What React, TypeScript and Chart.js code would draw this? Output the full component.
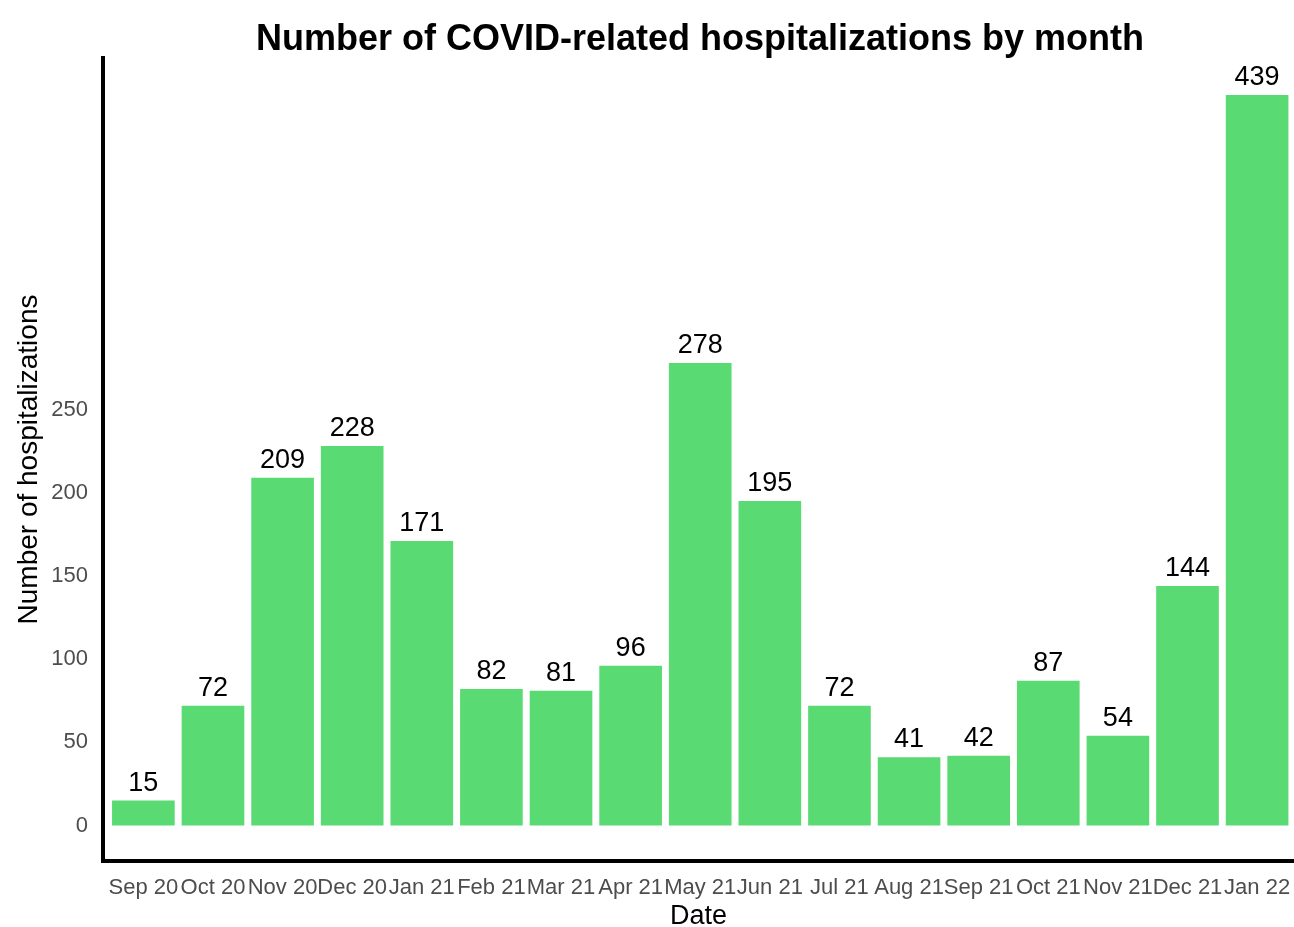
import React, { useEffect, useRef } from "react";
import { Chart, registerables } from "chart.js";

Chart.register(...registerables);

const months = [
  "Sep 20", "Oct 20", "Nov 20", "Dec 20", "Jan 21", "Feb 21", "Mar 21", "Apr 21", "May 21",
  "Jun 21", "Jul 21", "Aug 21", "Sep 21", "Oct 21", "Nov 21", "Dec 21", "Jan 22",
];
const hospitalizations = [15, 72, 209, 228, 171, 82, 81, 96, 278, 195, 72, 41, 42, 87, 54, 144, 439];
const yTicks = [0, 50, 100, 150, 200, 250];

const FONT = "'Liberation Sans', Arial, sans-serif";
const chartTitle = "Number of COVID-related hospitalizations by month";

export default function App() {
  const ref = useRef<HTMLCanvasElement | null>(null);

  useEffect(() => {
    document.body.style.margin = "0";
    const canvas = ref.current;
    if (!canvas) return;

    const labelsPlugin = {
      id: "valueLabels",
      afterDatasetsDraw(chart: any) {
        const ctx = chart.ctx;
        const meta = chart.getDatasetMeta(0);
        ctx.save();
        ctx.fillStyle = "#000000";
        ctx.font = `27px ${FONT}`;
        ctx.textAlign = "center";
        ctx.textBaseline = "alphabetic";
        meta.data.forEach((bar: any, i: number) => {
          ctx.fillText(String(hospitalizations[i]), bar.x, bar.y - 10);
        });
        ctx.restore();
      },
      afterDraw(chart: any) {
        const ctx = chart.ctx;
        ctx.save();
        ctx.fillStyle = "#000000";
        ctx.font = `bold 36px ${FONT}`;
        ctx.textAlign = "center";
        ctx.textBaseline = "alphabetic";
        ctx.fillText(chartTitle, 700, 50);
        ctx.restore();
      },
    };

    const chart = new Chart(canvas, {
      type: "bar",
      data: {
        datasets: [
          {
            data: hospitalizations.map((v, i) => ({ x: i, y: v })),
            backgroundColor: "#59DA72",
            borderWidth: 0,
            categoryPercentage: 0.9,
            barPercentage: 1,
          },
        ],
      },
      options: {
        animation: false,
        responsive: false,
        devicePixelRatio: 1,
        layout: { padding: { top: 58, left: 0, right: 0, bottom: 0 } },
        plugins: {
          legend: { display: false },
          tooltip: { enabled: false },
          title: { display: false },
        },
        scales: {
          x: {
            type: "linear",
            offset: false,
            min: -0.58,
            max: 16.53,
            afterBuildTicks: (scale: any) => {
              scale.ticks = months.map((_, i) => ({ value: i }));
            },
            afterFit: (scale: any) => {
              scale.height = 66;
              scale.paddingLeft = 0;
              scale.paddingRight = 0;
            },
            grid: { display: false, drawTicks: false },
            border: { display: true, color: "#000000", width: 4 },
            ticks: {
              autoSkip: false,
              maxRotation: 0,
              minRotation: 0,
              padding: 14,
              color: "#4D4D4D",
              font: { family: FONT, size: 22 },
              callback: (v: any) => months[Math.round(Number(v))] ?? "",
            },
            title: {
              display: true,
              text: "Date",
              color: "#000000",
              font: { family: FONT, size: 27, lineHeight: 0.8 },
              padding: 0,
            },
          },
          y: {
            type: "linear",
            min: -21.3,
            max: 461.2,
            afterBuildTicks: (scale: any) => {
              scale.ticks = yTicks.map((v) => ({ value: v }));
            },
            afterFit: (scale: any) => {
              scale.width = 103;
              scale.paddingTop = 0;
              scale.paddingBottom = 0;
            },
            grid: { display: false, drawTicks: false },
            border: { display: true, color: "#000000", width: 4 },
            ticks: {
              padding: 15,
              color: "#4D4D4D",
              font: { family: FONT, size: 22 },
              callback: (v: any) => String(v),
            },
            title: {
              display: true,
              text: "Number of hospitalizations",
              color: "#000000",
              font: { family: FONT, size: 28 },
              padding: { top: 12, bottom: 0 },
            },
          },
        },
      },
      plugins: [labelsPlugin],
    } as any);

    return () => chart.destroy();
  }, []);

  return (
    <div style={{ width: 1294, height: 927, background: "#ffffff" }}>
      <canvas ref={ref} width={1294} height={927} />
    </div>
  );
}
